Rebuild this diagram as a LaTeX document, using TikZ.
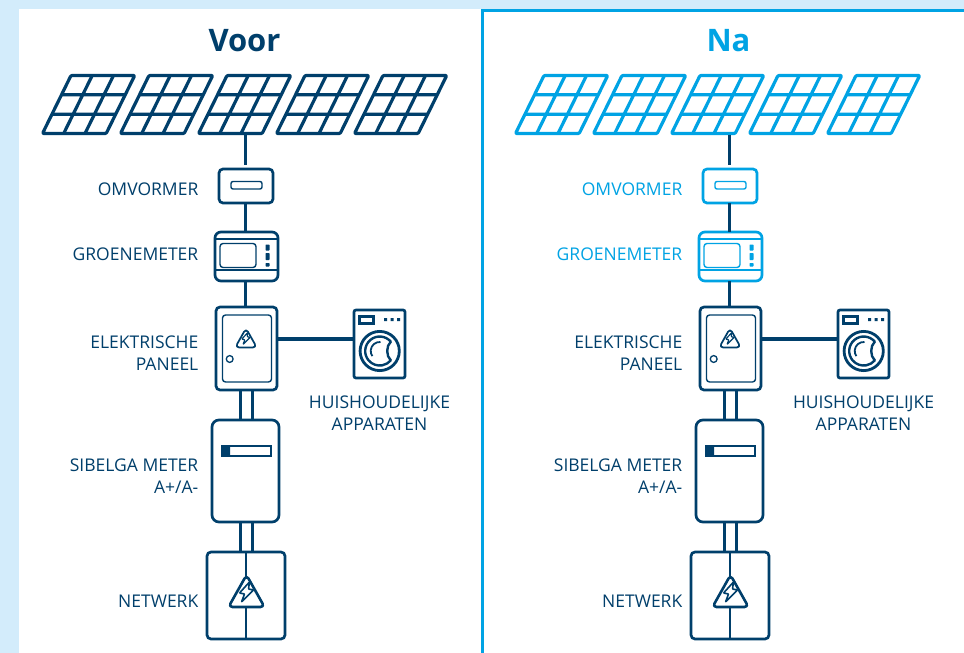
\documentclass[tikz,border=0pt]{standalone}
\usepackage{fontspec}
\setmainfont{Open Sans}
\definecolor{navy}{HTML}{003F6B}
\definecolor{sky}{HTML}{00A3E4}
\definecolor{pale}{HTML}{D3ECFB}
\tikzset{
  wire/.style={draw=navy,line width=3.6pt},
  box/.style={draw=#1,fill=white,line width=2.7pt,rounded corners=4pt,inner sep=0pt,outer sep=0pt},
  thin part/.style={draw=#1,line width=1.4pt,rounded corners=2pt},
  lab/.style={text=#1,font=\fontsize{17.5}{19}\selectfont,anchor=east,inner sep=0pt,align=right},
  title/.style={text=#1,font=\bfseries\fontsize{31}{36}\selectfont,inner sep=0pt},
  cell/.style={draw=#1,line width=3.2pt,line join=round,rounded corners=1pt}
}
% warning triangle centred on (#1,#2), scale #3, colour navy
\newcommand{\warnsign}[3]{%
  \begin{scope}[shift={(#1,#2)},scale=#3]
    \draw[navy,line width=2.2pt*#3+0.4pt,fill=white,rounded corners=4pt,line join=round]
      (0,-17)--(18,15)--(-18,15)--cycle;
    \draw[navy,line width=1.1pt*#3+0.5pt,line join=round,rounded corners=.6pt]
      (3,-10)--(-7,1)--(-2,2)--(-5,10)--(7,-2)--(2,-3)--cycle;
  \end{scope}}
\newcommand{\solarcell}[2]{%
  \begin{scope}[shift={(#1,0)}]
    \draw[cell=#2] (71,75.5)--(134.7,75.5)--(106.2,133.5)--(42.5,133.5)--cycle;
    \draw[cell=#2] (92.2,75.5)--(63.7,133.5) (113.5,75.5)--(85,133.5)
      (61.5,94.8)--(125.2,94.8) (52,114.2)--(115.7,114.2);
  \end{scope}}
% #1 prefix, #2 panels shift, #3 devices shift, #4 colour of panels/title/omvormer/groenemeter, #5 title
\newcommand{\side}[5]{%
  \begin{scope}[shift={(#2,0)}]
    \node[title=#4] (#1title) at (#3-#2+244.5,41) {#5};
    \foreach \k in {0,78,156,234,312}{\solarcell{\k}{#4}}
    \coordinate (#1pv) at (245.3+#3-#2,135);
  \end{scope}
  \begin{scope}[shift={(#3,0)}]
    \coordinate (#1bus) at (245.3,300);
    \coordinate (#1busA) at (240.3,300);
    \coordinate (#1busB) at (252.3,300);
    % devices
    \node[box=#4,minimum width=54pt,minimum height=34pt] (#1omv) at (246,186) {};
    \node[box=#4,minimum width=63pt,minimum height=49pt,rounded corners=6pt] (#1gm) at (246.5,256.5) {};
    \node[box=navy,minimum width=61pt,minimum height=83pt] (#1ep) at (246.5,348.5) {};
    \node[box=navy,minimum width=51pt,minimum height=68pt,rounded corners=2pt] (#1wm) at (379.5,344) {};
    \node[box=navy,minimum width=67pt,minimum height=102pt,rounded corners=7pt] (#1sib) at (245.5,471) {};
    \node[box=navy,minimum width=78pt,minimum height=87pt] (#1net) at (246,595.5) {};
    % connectors
    \draw[wire,shorten >=3.6pt] (#1pv) -- (#1bus |- #1omv.north);
    \draw[wire] (#1bus |- #1omv.south) -- (#1bus |- #1gm.north);
    \draw[wire] (#1bus |- #1gm.south) -- (#1bus |- #1ep.north);
    \draw[wire] (#1ep.east |- 0,339) -- (#1wm.west |- 0,339);
    \draw[wire] (#1busA |- #1ep.south) -- (#1busA |- #1sib.north);
    \draw[wire] (#1busB |- #1ep.south) -- (#1busB |- #1sib.north);
    \draw[wire] (#1busA |- #1sib.south) -- (#1busA |- #1net.north);
    \draw[wire] (#1busB |- #1sib.south) -- (#1busB |- #1net.north);
    % omvormer detail
    \draw[thin part=#4] (231,181.5) rectangle (262,189);
    % groenemeter detail
    \draw[#4,line width=1.2pt] (216,239) -- (277,239) (216,270) -- (277,270);
    \draw[thin part=#4,rounded corners=3pt] (220,243.5) rectangle (256,267.5);
    \fill[#4,rounded corners=.6pt] (265.5,244.5) rectangle (269.5,250.5) (265.5,253) rectangle (269.5,260) (265.5,263) rectangle (269.5,266.5);
    % elektrische paneel detail
    \draw[thin part=navy,rounded corners=3pt] (222.5,315) rectangle (271.5,382);
    \draw[navy,line width=1.3pt] (229.7,359) circle (3.4);
    \warnsign{246}{338.5}{0.6}
    % washing machine detail
    \draw[navy,line width=2.2pt] (359.5,316.5) rectangle (373.5,323.5);
    \fill[navy] (384,318) rectangle (387,321) (390.5,318) rectangle (393.5,321) (397,318) rectangle (400,321);
    \draw[navy,line width=2.8pt] (379.7,351) circle (19.6);
    \draw[navy,line width=2.4pt,line join=round] (390.8,341.7) arc (-40:-320:14.5) .. controls (386,356) and (386,346) .. cycle;
    \draw[navy,line width=1.8pt] (380.5,342) arc (-85:-215:9);
    % sibelga detail
    \draw[navy,line width=1.2pt] (221.5,446) rectangle (271,456);
    \fill[navy,rounded corners=.6pt] (221,445.5) rectangle (230,456.5);
    % network detail
    \draw[navy,line width=2pt] (#1net.north -| 246,0) -- (246,577) (246,607) -- (#1net.south -| 246,0);
    \warnsign{246.5}{592}{1}
    % labels
    \node[lab=#4] (#1Lomv) at (198.5,189) {OMVORMER};
    \node[lab=#4] (#1Lgm) at (198.5,254) {GROENEMETER};
    \node[lab=navy] (#1Lep) at (198.5,353) {ELEKTRISCHE\\[2.5pt]PANEEL};
    \node[lab=navy,align=center,anchor=center] (#1Lwm) at (379.5,413) {HUISHOUDELIJKE\\[2.5pt]APPARATEN};
    \node[lab=navy] (#1Lsib) at (198.5,476) {SIBELGA METER\\[2.5pt]A+/A-};
    \node[lab=navy] (#1Lnet) at (198.5,601) {NETWERK};
  \end{scope}}
\begin{document}
\begin{tikzpicture}[x=1pt,y=-1pt]
  \useasboundingbox (0,0) rectangle (964,653);
  \clip (0,0) rectangle (964,653);
  \fill[pale] (0,0) rectangle (964,653);
  \fill[white] (19,9) rectangle (482,660);
  \draw[sky,line width=3.2pt,fill=white] (482.7,670) -- (482.7,10.8) -- (980,10.8) -- (980,670) -- cycle;
  \side{L}{0}{0}{navy}{Voor}
  \side{R}{473}{484}{sky}{Na}
\end{tikzpicture}
\end{document}
